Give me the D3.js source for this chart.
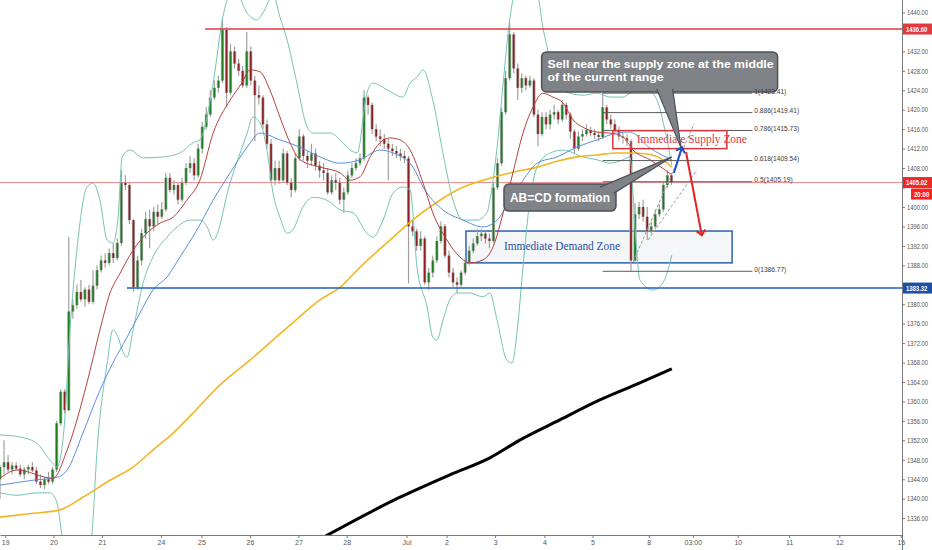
<!DOCTYPE html>
<html>
<head>
<meta charset="utf-8" />
<title>XAUUSD 2H</title>
<style>
  html, body { margin: 0; padding: 0; background: #ffffff; }
  svg { display: block; }
</style>
</head>
<body>
<svg id="chart" width="932" height="550"></svg>
<script src="https://cdn.jsdelivr.net/npm/d3@7"></script>
<script>
// candles (one per bar index)
var opens = [1344,1346.5,1347.5,1346,1346.8,1346.2,1345,1346,1346.5,1345.8,1343.5,1342.8,1344,1343.5,1346,1355.5,1362,1358.2,1378.5,1379.8,
  1382.5,1381,1383,1380.5,1383.8,1387,1389,1388.5,1390.5,1389.5,1392.6,1405,1404.5,1397.3,1383.5,1389,1394.6,1397.5,1396,1399,
  1398,1399.5,1406,1403.5,1404.5,1401.5,1405,1408,1409,1406.5,1412,1416.5,1419,1422.5,1424.5,1426,1436.4,1423.5,1432,1429.5,
  1428,1425,1432,1426,1423,1422.5,1417,1413,1405.5,1408,1405.5,1411,1405,1403.5,1410,1414.5,1410.5,1409.5,1411,1408.5,
  1407.5,1407,1403,1405.5,1405,1401.5,1403,1406.5,1408,1409,1410,1422.5,1421,1416,1414.5,1414,1413,1412,1411.5,1411,
  1410.5,1410,1396,1395,1392,1393.5,1384.5,1386.5,1389,1393,1396,1390,1386.5,1384.5,1384,1386.5,1388.5,1391,1392.5,1394,
  1394.5,1393.5,1393,1404,1409,1419.5,1426.5,1435.5,1428.5,1424.5,1426.5,1425,1426,1419,1415,1418.5,1417,1419,1419.5,1418,
  1421,1419,1415.5,1412,1414.5,1415,1415.8,1415.2,1414.8,1414.4,1420.5,1418,1417,1415.8,1414.5,1414.2,1413.5,1389,1398.5,1400,
  1398,1395,1396,1398.5,1399.5,1404.5,1406.5];
var highs = [1347,1352,1349,1347.5,1347.5,1347,1346.5,1347,1347.5,1346.5,1345,1344.5,1345.5,1346.5,1356,1362.5,1362.5,1393.8,1381,1384,
  1385,1383.5,1384,1387,1388,1390,1390.5,1391.5,1392.5,1393.5,1407.6,1406.5,1405,1397.5,1390,1395.5,1399,1399.5,1400,1400.5,
  1401,1407,1407,1405.5,1405,1406,1409,1410.5,1410,1413,1417.5,1420.5,1424,1426,1427,1439,1437,1433.5,1433,1430.5,
  1429,1436,1433,1427,1425,1423,1418,1414,1409.5,1409.5,1412,1411.5,1406,1411,1416,1415,1411.5,1413,1412,1409.5,
  1409,1408,1406.5,1407,1406,1404,1407.5,1409,1410,1411,1424,1423,1421.5,1417,1416,1415,1414,1413,1412.5,1412,
  1411.5,1410.5,1397.5,1395.5,1395,1394,1387.5,1390,1394,1397,1396.5,1391,1387.5,1385.5,1387,1389.5,1392,1393.5,1395.5,1395.5,
  1395,1394.5,1405,1410,1420.5,1428,1438,1436,1429.5,1427.5,1427,1427,1426.5,1420,1419.5,1419.5,1420,1421,1420,1422,
  1421.5,1419.5,1416,1415.5,1416,1417,1416.5,1416,1415.5,1423.4,1421,1419,1418,1416.5,1415.5,1415,1414,1400.8,1401,1401.5,
  1400,1397,1399.5,1400.5,1405,1407.5,1407];
var lows = [1340,1345,1345.5,1345,1345.8,1344.5,1344,1345,1345.5,1343,1342.2,1342,1343,1343,1345.5,1355,1357.5,1358,1377,1379,
  1380.5,1379.5,1380,1380,1383,1386.5,1387.5,1388,1388.5,1389,1392,1403.5,1396.5,1382.6,1383,1388,1393.5,1391.5,1395,1396.5,
  1397.5,1399,1403,1402.5,1400.5,1401,1404.5,1407,1405.5,1406,1411,1416,1418.5,1422,1423.5,1425.5,1420.5,1423,1428.5,1427,
  1424.5,1424.5,1425,1413.5,1421,1416,1412,1405,1404.5,1404.8,1405,1404.5,1402,1403,1409.5,1409.5,1408,1408.5,1407.5,1406,
  1405.5,1402.5,1402.5,1403.5,1400.5,1398.8,1402.5,1406,1407.5,1408.5,1409.5,1419,1415,1413.5,1412.5,1412,1405.5,1410.5,1410,1409.5,
  1409,1384.3,1394,1391,1391,1384,1382.9,1385.5,1388.5,1392.5,1389.5,1385.5,1383.5,1382.3,1383.5,1386,1388,1390.5,1392,1393,
  1392.5,1391.5,1392.5,1403.5,1408.5,1419,1426,1427.5,1422,1423.5,1424,1424.5,1418.5,1412.5,1414.5,1416,1416,1418,1417,1417.5,
  1418,1414,1411,1411.5,1413.5,1414.5,1414.5,1414,1413.5,1414,1417,1416,1415,1413.5,1413,1412.5,1386.77,1388.5,1397.5,1397,
  1393.2,1394.5,1395.5,1398,1399,1404,1404.5];
var closes = [1346.5,1347.5,1346,1346.8,1346.2,1345,1346,1346.5,1345.8,1343.5,1342.8,1344,1343.5,1346,1355.5,1362,1358.2,1378.5,1379.8,1382.5,
  1381,1383,1380.5,1383.8,1387,1389,1388.5,1390.5,1389.5,1392.6,1405,1404.5,1397.3,1383.5,1389,1394.6,1397.5,1396,1399,1398,
  1399.5,1406,1403.5,1404.5,1401.5,1405,1408,1409,1406.5,1412,1416.5,1419,1422.5,1424.5,1426,1436.4,1423.5,1432,1429.5,1428,
  1425,1432,1426,1423,1422.5,1417,1413,1405.5,1408,1405.5,1411,1405,1403.5,1410,1414.5,1410.5,1409.5,1411,1408.5,1407.5,
  1407,1403,1405.5,1405,1401.5,1403,1406.5,1408,1409,1410,1422.5,1421,1416,1414.5,1414,1413,1412,1411.5,1411,1410.5,
  1410,1396,1395,1392,1393.5,1384.5,1386.5,1389,1393,1396,1390,1386.5,1384.5,1384,1386.5,1388.5,1391,1392.5,1394,1394.5,
  1393.5,1393,1404,1409,1419.5,1426.5,1435.5,1428.5,1424.5,1426.5,1425,1426,1419,1415,1418.5,1417,1419,1419.5,1418,1421,
  1419,1415.5,1412,1414.5,1415,1415.8,1415.2,1414.8,1414.4,1420.5,1418,1417,1415.8,1414.5,1414.2,1413.5,1389,1398.5,1400,1398,
  1395,1396,1398.5,1399.5,1404.5,1406.5,1405.02];

// time axis
var xTickPos = [1.3, 13.2, 25.2, 39.8, 49.8, 61.8, 73.8, 85.7, 100.5, 110.4, 122.4, 134.6, 146.5, 160.4, 171.3, 182.4, 195.1, 207.5, 222.7];
var xTickLabels = ["19", "20", "21", "24", "25", "26", "27", "28", "Jul", "2", "3", "4", "5", "8", "03:00", "10", "11", "12", "15"];
var yTicks = d3.range(1336, 1441, 4);

// indicators [bar index, price]
var ma20 = [[0,1344.2],[4.2,1345.9],[13.1,1344.2],[16.6,1350.0],[21.5,1363.8],[24.7,1374.7],[27.2,1382.3],[29.7,1386.4],[32.9,1391.1],
  [36.3,1394.6],[39.6,1396.7],[42.8,1397.9],[46.2,1401.4],[49.4,1405.5],[52.7,1415.2],[56.9,1422.0],[59.8,1425.5],[61.8,1428.2],
  [64.3,1427.8],[66.7,1424.1],[69.2,1418.5],[71.7,1413.2],[74.2,1409.7],[79.1,1408.2],[84.1,1407.0],[86.5,1405.5],[89.0,1406.2],
  [91.5,1410.3],[93.9,1413.2],[96.4,1414.2],[98.9,1413.8],[101.4,1411.7],[104.6,1404.9],[107.0,1398.8],[110.5,1393.2],[113.7,1389.7],
  [116.2,1388.5],[119.4,1389.1],[121.9,1391.8],[124.4,1398.8],[126.8,1407.0],[129.3,1415.2],[131.8,1420.6],[134.2,1423.4],[136.7,1422.6],
  [139.2,1421.4],[141.7,1417.9],[144.1,1416.4],[147.6,1415.4],[150.8,1415.2],[154.0,1414.4],[156.5,1411.7],[160.7,1409.7],[166.1,1406.6]];
var ma50 = [[0,1342.8],[8.2,1343.8],[14.1,1344.4],[16.6,1345.9],[20.5,1353.5],[24.7,1362.3],[27.9,1367.9],[31.4,1373.2],[34.6,1378.2],
  [37.8,1382.9],[41.3,1385.6],[44.5,1389.7],[48.7,1395.3],[52.7,1401.4],[56.9,1407.0],[61.1,1412.3],[64.3,1415.2],[69.2,1413.8],
  [74.2,1412.3],[79.1,1410.3],[84.1,1409.0],[89.0,1409.7],[93.9,1411.7],[97.2,1411.1],[102.1,1408.2],[104.6,1404.1],[109.5,1399.4],
  [114.5,1397.3],[119.4,1395.9],[122.9,1397.3],[126.1,1401.4],[129.3,1405.5],[132.8,1409.0],[137.7,1410.3],[142.6,1412.3],[147.6,1413.8],
  [152.5,1415.2],[155.7,1415.4],[160.7,1412.1],[166.1,1409.7]];
var ma200 = [[0,1336.2],[8.2,1337.0],[14.8,1337.7],[20.5,1340.3],[27.2,1343.8],[32.9,1346.5],[37.8,1350.0],[42.8,1353.5],[47.7,1357.6],
  [54.4,1363.4],[61.8,1368.5],[71.7,1375.7],[79.1,1380.9],[84.1,1383.5],[89.0,1387.6],[96.4,1393.2],[101.4,1396.9],[107.0,1400.4],
  [113.0,1403.5],[119.4,1405.5],[126.1,1407.0],[132.8,1408.2],[137.7,1409.4],[142.6,1410.3],[147.6,1410.7],[152.5,1411.1],[155.7,1411.1],
  [160.0,1410.9],[163.9,1409.7],[166.1,1408.2]];
var bbUpper = [[0,1353.1],[4.9,1352.7],[9.1,1351.4],[12.4,1347.9],[14.1,1346.5],[15.8,1354.1],[17.3,1374.7],[19.0,1391.1],[21.5,1404.1],
  [23.0,1404.9],[24.7,1401.4],[26.5,1393.2],[27.9,1392.6],[29.2,1397.9],[30.2,1410.3],[32.1,1411.7],[35.4,1410.1],[40.3,1410.3],
  [44.5,1411.1],[47.7,1413.2],[49.4,1413.8],[52.7,1425.5],[55.1,1439.1],[56.9,1443.6],[58.6,1443.6],[61.1,1439.9],[63.5,1438.5],
  [65.0,1439.9],[67.5,1443.6],[69.2,1439.1],[71.0,1434.3],[73.4,1425.5],[75.9,1416.5],[77.4,1415.2],[81.6,1415.2],[84.1,1413.8],
  [85.8,1412.3],[88.3,1411.1],[90.7,1423.4],[92.2,1425.5],[95.7,1424.1],[99.6,1422.6],[101.4,1425.5],[103.1,1426.7],[104.6,1428.2],
  [107.0,1422.0],[109.5,1411.1],[112.0,1401.4],[114.5,1397.3],[117.9,1397.3],[120.4,1398.8],[121.1,1401.4],[122.9,1412.3],[124.4,1425.5],
  [126.1,1439.1],[127.3,1443.6],[132.8,1443.6],[134.2,1437.0],[136.0,1430.2],[137.7,1424.7],[140.9,1423.4],[144.1,1423.0],[147.6,1423.4],
  [150.8,1422.6],[154.0,1422.6],[155.7,1423.4],[159.5,1424.5],[162.4,1422.0],[164.4,1415.8],[166.1,1408.6]];
var bbLower = [[0,1341.2],[4.2,1340.7],[9.1,1341.2],[12.4,1341.2],[14.1,1339.1],[15.3,1332.5],[16.3,1326.3],[21.3,1326.3],[22.7,1332.5],
  [24.0,1350.0],[26.5,1367.9],[27.9,1374.7],[29.2,1373.2],[30.2,1370.6],[31.4,1369.1],[32.9,1374.7],[35.4,1384.4],[37.8,1389.7],
  [41.3,1393.8],[43.8,1395.9],[47.0,1397.3],[49.4,1397.3],[51.2,1395.9],[52.7,1393.2],[56.9,1405.0],[61.1,1415.2],[62.5,1418.5],
  [64.3,1417.3],[66.0,1411.7],[67.5,1402.9],[69.2,1397.9],[71.0,1394.6],[72.4,1395.3],[74.9,1400.0],[77.4,1402.0],[80.8,1401.4],
  [84.1,1399.4],[87.3,1398.8],[90.7,1394.6],[92.2,1393.8],[94.7,1397.3],[97.2,1402.9],[99.6,1404.1],[101.4,1403.5],[103.1,1387.6],
  [105.6,1379.4],[107.0,1373.2],[108.0,1372.6],[109.5,1376.7],[111.2,1380.9],[113.0,1382.3],[116.2,1382.3],[119.4,1381.5],[121.1,1382.3],
  [122.9,1376.7],[125.3,1368.5],[126.6,1367.9],[127.8,1374.1],[129.3,1387.6],[131.0,1401.4],[132.8,1408.2],[136.0,1411.1],[139.2,1411.7],
  [144.1,1410.3],[147.6,1409.7],[150.8,1409.0],[154.0,1409.7],[155.7,1410.3],[157.2,1393.2],[158.2,1385.0],[161.4,1382.9],[163.9,1384.4],
  [164.9,1386.4],[166.1,1390.1]];
var slowLine = [[80.5,1332.3],[98.9,1340.3],[111.2,1344.9],[121.1,1348.4],[128.6,1352.1],[138.4,1356.2],[148.3,1360.3],[158.2,1363.8],[166.1,1366.7]];

// levels and drawings
var resistance = 1436.60, resistanceFrom = 50.7;
var support = 1383.32, supportFrom = 31.4;
var lastPrice = 1405.02;
var fibRatios = ["1", "0.886", "0.786", "0.618", "0.5", "0"];
var fibPrices = [1423.41, 1419.41, 1415.73, 1409.54, 1405.19, 1386.77];
var fibFrom = 149, fibTo = 186;
var supplyZone = { from: 151.5, to: 179.7, top: 1415.7, bottom: 1412.0 };
var demandZone = { from: 115.2, to: 181, top: 1395.05, bottom: 1388.5 };
var channelA = [[156.5, 1388.7], [171.6, 1417.1]];
var channelB = [[160.2, 1393.2], [172.3, 1407.6]];
var upMove = [[166.6, 1407.0], [168.6, 1412.3]];
var downMove = [[169.6, 1411.3], [173.5, 1394.2]];

var W = 932, H = 550, plotW = 902, plotH = 535;
var svg = d3.select("#chart");

var x = d3.scaleLinear().domain([0, 223]).range([0, plotW]);
var y = d3.scaleLinear().domain([1332.53, 1442.57]).range([plotH, 0]);

svg.append("defs").append("clipPath").attr("id", "plot")
  .append("rect").attr("width", plotW).attr("height", plotH);

var defs = svg.select("defs");
function chevron(id, color) {
  defs.append("marker").attr("id", id)
    .attr("viewBox", "-6 -6 12 12").attr("refX", 0).attr("refY", 0)
    .attr("markerWidth", 12).attr("markerHeight", 12)
    .attr("markerUnits", "userSpaceOnUse").attr("orient", "auto")
    .append("path").attr("d", "M-5,-4.5 L0,0 L-5,4.5")
    .attr("fill", "none").attr("stroke", color).attr("stroke-width", 2);
}
chevron("headBlue", "#1f4fc8");
chevron("headRed", "#e02424");

var g = svg.append("g").attr("clip-path", "url(#plot)");

// demand zone (under candles)
g.append("rect")
  .attr("x", x(demandZone.from)).attr("y", y(demandZone.top))
  .attr("width", x(demandZone.to) - x(demandZone.from))
  .attr("height", y(demandZone.bottom) - y(demandZone.top))
  .attr("fill", "#eef0f4").attr("fill-opacity", 0.6)
  .attr("stroke", "#2c62b2").attr("stroke-width", 1.5);

// current price line
g.append("line").attr("x1", 0).attr("x2", plotW)
  .attr("y1", y(lastPrice)).attr("y2", y(lastPrice))
  .attr("stroke", "#f08a8a").attr("stroke-width", 1);

// candles
var bars = d3.range(closes.length);
g.selectAll(".wick").data(bars).join("line").attr("class", "wick")
  .attr("x1", function(i) { return x(i); }).attr("x2", function(i) { return x(i); })
  .attr("y1", function(i) { return y(highs[i]); }).attr("y2", function(i) { return y(lows[i]); })
  .attr("stroke", "#a0a0a0").attr("stroke-width", 1.2);
g.selectAll(".body").data(bars).join("rect").attr("class", "body")
  .attr("x", function(i) { return x(i) - 1.6; }).attr("width", 3.2)
  .attr("y", function(i) { return y(Math.max(opens[i], closes[i])); })
  .attr("height", function(i) { return Math.max(1, Math.abs(y(opens[i]) - y(closes[i]))); })
  .attr("fill", "#b0b0b0");
g.selectAll(".core").data(bars).join("rect").attr("class", "core")
  .attr("x", function(i) { return x(i) - 0.85; }).attr("width", 1.7)
  .attr("y", function(i) { return y(Math.max(opens[i], closes[i])); })
  .attr("height", function(i) { return Math.max(1, Math.abs(y(opens[i]) - y(closes[i]))); })
  .attr("fill", function(i) { return closes[i] >= opens[i] ? "#1c7d1c" : "#8c1f1f"; });

// indicators
var line = d3.line()
  .x(function(d) { return x(d[0]); })
  .y(function(d) { return y(d[1]); })
  .curve(d3.curveMonotoneX);

[[bbUpper, "#74c4b4", 1], [bbLower, "#74c4b4", 1], [ma200, "#f2b623", 1.6],
 [ma50, "#5a8fdc", 1], [ma20, "#b8413c", 1], [slowLine, "#000000", 3]].forEach(function(s) {
  g.append("path").datum(s[0]).attr("d", line)
    .attr("fill", "none").attr("stroke", s[1]).attr("stroke-width", s[2]);
});

// support / resistance
g.append("line").attr("x1", x(resistanceFrom)).attr("x2", plotW)
  .attr("y1", y(resistance)).attr("y2", y(resistance))
  .attr("stroke", "#e0393e").attr("stroke-width", 1.5);
g.append("line").attr("x1", x(supportFrom)).attr("x2", plotW)
  .attr("y1", y(support)).attr("y2", y(support))
  .attr("stroke", "#2160b8").attr("stroke-width", 1.5);

// fibonacci levels
g.selectAll(".fib").data(fibPrices).join("line").attr("class", "fib")
  .attr("x1", x(fibFrom)).attr("x2", x(fibTo))
  .attr("y1", function(d) { return y(d); }).attr("y2", function(d) { return y(d); })
  .attr("stroke", "#5c5c5c").attr("stroke-width", 1);

// supply zone
g.append("rect")
  .attr("x", x(supplyZone.from)).attr("y", y(supplyZone.top))
  .attr("width", x(supplyZone.to) - x(supplyZone.from))
  .attr("height", y(supplyZone.bottom) - y(supplyZone.top))
  .attr("fill", "#ffffff").attr("fill-opacity", 0.15)
  .attr("stroke", "#d8333a").attr("stroke-width", 1.5);

// channel and arrows
[channelA, channelB].forEach(function(c) {
  g.append("line")
    .attr("x1", x(c[0][0])).attr("y1", y(c[0][1]))
    .attr("x2", x(c[1][0])).attr("y2", y(c[1][1]))
    .attr("stroke", "#9a9a9a").attr("stroke-width", 1).attr("stroke-dasharray", "3,2");
});
g.append("line")
  .attr("x1", x(upMove[0][0])).attr("y1", y(upMove[0][1]))
  .attr("x2", x(upMove[1][0])).attr("y2", y(upMove[1][1]))
  .attr("stroke", "#1f4fc8").attr("stroke-width", 2).attr("marker-end", "url(#headBlue)");
g.append("line")
  .attr("x1", x(downMove[0][0])).attr("y1", y(downMove[0][1]))
  .attr("x2", x(downMove[1][0])).attr("y2", y(downMove[1][1]))
  .attr("stroke", "#e02424").attr("stroke-width", 2).attr("marker-end", "url(#headRed)");

// zone texts
g.append("text").attr("x", x(demandZone.from) + 38).attr("y", y(demandZone.top) + 19)
  .attr("font-family", "Liberation Serif, DejaVu Serif, serif").attr("font-size", 12.5)
  .attr("fill", "#1f4f9e").attr("textLength", 116).attr("lengthAdjust", "spacingAndGlyphs")
  .text("Immediate Demand Zone");
g.append("text").attr("x", x(supplyZone.from) + 24).attr("y", y(supplyZone.top) + 12)
  .attr("font-family", "Liberation Serif, DejaVu Serif, serif").attr("font-size", 12)
  .attr("fill", "#e2373c").attr("textLength", 110).attr("lengthAdjust", "spacingAndGlyphs")
  .text("Immediate Supply Zone");

// callouts
var callouts = [
  { lines: ["Sell near the supply zone at the middle", "of the current range"], at: [133.9, 1431.9], tip: [168.4, 1412.1] },
  { lines: ["AB=CD formation"], at: [124.6, 1404.7], tip: [166.1, 1410.3] }
];
var calloutBox = [
  { w: 236, h: 40, base: [[115, 37], [131, 37]], lens: [226, 116], dy: [16.5, 29.4], size: 11.5 },
  { w: 112, h: 27, base: [[96, 3], [110, 9]], lens: [100], dy: [17.5], size: 13 }
];
callouts.forEach(function(c, k) {
  var b = calloutBox[k];
  var bx = x(c.at[0]), by = y(c.at[1]);
  var cg = svg.append("g");
  cg.append("rect").attr("x", bx).attr("y", by).attr("width", b.w).attr("height", b.h)
    .attr("rx", 5).attr("fill", "#7f8388").attr("stroke", "#4e5257").attr("stroke-width", 1.5);
  cg.append("path")
    .attr("d", "M" + (bx + b.base[0][0]) + "," + (by + b.base[0][1]) +
      " L" + x(c.tip[0]) + "," + y(c.tip[1]) +
      " L" + (bx + b.base[1][0]) + "," + (by + b.base[1][1]))
    .attr("fill", "#7f8388").attr("stroke", "#4e5257").attr("stroke-width", 1.2);
  c.lines.forEach(function(t, j) {
    cg.append("text").attr("x", bx + 6).attr("y", by + b.dy[j])
      .attr("font-family", "Liberation Sans, Arial, sans-serif").attr("font-weight", 700)
      .attr("font-size", b.size).attr("fill", "#ffffff")
      .attr("textLength", b.lens[j]).attr("lengthAdjust", "spacingAndGlyphs")
      .text(t);
  });
});

// fib labels on top
svg.selectAll(".fibLabel").data(fibPrices).join("text").attr("class", "fibLabel")
  .attr("x", x(fibTo) + 2).attr("y", function(d) { return y(d) + 0.5; })
  .attr("font-family", "Liberation Sans, Arial, sans-serif").attr("font-size", 7.5)
  .attr("fill", "#3a3a3a")
  .attr("textLength", function(d, i) { return (fibRatios[i] + "(" + d.toFixed(2) + ")").length * 3.2; })
  .attr("lengthAdjust", "spacingAndGlyphs")
  .text(function(d, i) { return fibRatios[i] + "(" + d.toFixed(2) + ")"; });

// axes (tick labels hidden where a price tag sits, as on the platform)
var tagPrices = [resistance, lastPrice, support];
var shownTicks = yTicks.filter(function(v) {
  return tagPrices.every(function(p) { return Math.abs(y(v) - y(p)) > 9 && !(v < p && y(v) - y(p) < 19 && p === lastPrice); });
});
var yAxis = d3.axisRight(y).tickValues(yTicks).tickFormat(d3.format(".2f"))
  .tickSize(3).tickPadding(2).tickSizeOuter(0);
svg.append("g").attr("transform", "translate(" + plotW + ",0)").call(yAxis)
  .call(function(a) { a.select(".domain").remove(); })
  .call(function(a) { a.selectAll(".tick line").attr("stroke", "#7a7a7a"); })
  .call(function(a) {
    a.selectAll(".tick text").attr("fill", "#555").attr("font-size", 7)
      .attr("font-family", "Liberation Sans, Arial, sans-serif")
      .attr("textLength", 21).attr("lengthAdjust", "spacingAndGlyphs")
      .filter(function(v) { return shownTicks.indexOf(v) < 0; }).remove();
  });

var xAxis = d3.axisBottom(x).tickValues(xTickPos)
  .tickFormat(function(d, i) { return xTickLabels[i]; })
  .tickSize(3).tickPadding(2).tickSizeOuter(0);
svg.append("g").attr("transform", "translate(0," + plotH + ")").call(xAxis)
  .call(function(a) { a.select(".domain").attr("stroke", "#7a7a7a"); })
  .call(function(a) { a.selectAll(".tick line").attr("stroke", "#7a7a7a"); })
  .call(function(a) {
    a.selectAll(".tick text").attr("fill", "#555").attr("font-size", 7)
      .attr("font-family", "Liberation Sans, Arial, sans-serif");
  });

svg.append("line").attr("x1", plotW + 0.5).attr("x2", plotW + 0.5).attr("y1", 0).attr("y2", H)
  .attr("stroke", "#7a7a7a").attr("stroke-width", 1);

// price tags on the axis
function tag(price, text, color, left, shift) {
  var ty = y(price) + (shift || 0);
  svg.append("rect").attr("x", plotW + 1 + left).attr("y", ty - 5.5)
    .attr("width", W - plotW - 1 - left).attr("height", 11).attr("fill", color);
  svg.append("text").attr("x", plotW + 4 + left).attr("y", ty + 2.6)
    .attr("font-family", "Liberation Sans, Arial, sans-serif").attr("font-size", 7)
    .attr("font-weight", 700).attr("fill", "#ffffff")
    .attr("textLength", text.length * 3.05).attr("lengthAdjust", "spacingAndGlyphs")
    .text(text);
}
tag(resistance, resistance.toFixed(2), "#e03a3e", 0);
tag(lastPrice, lastPrice.toFixed(2), "#f02828", 0);
tag(lastPrice, "20:00", "#ff1f1f", 8, 11.5);
tag(support, support.toFixed(2), "#1d4fa3", 0);
</script>
</body>
</html>
